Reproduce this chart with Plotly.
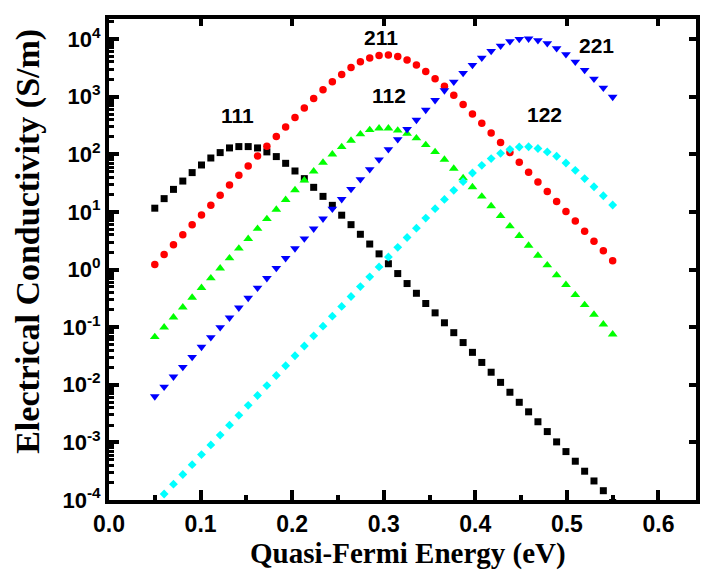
import math
import plotly.graph_objects as go

# Quasi-Fermi energy grid (eV)
energy = [0.0500, 0.0602, 0.0704, 0.0806, 0.0908, 0.1010, 0.1112, 0.1214, 0.1316, 0.1418,
          0.1520, 0.1622, 0.1724, 0.1827, 0.1929, 0.2031, 0.2133, 0.2235, 0.2337, 0.2439,
          0.2541, 0.2643, 0.2745, 0.2847, 0.2949, 0.3051, 0.3153, 0.3255, 0.3357, 0.3459,
          0.3561, 0.3663, 0.3765, 0.3867, 0.3969, 0.4071, 0.4173, 0.4276, 0.4378, 0.4480,
          0.4582, 0.4684, 0.4786, 0.4888, 0.4990, 0.5092, 0.5194, 0.5296, 0.5398, 0.5500]

sigma_111 = [11.6, 17.0, 24.6, 34.3, 48.1, 65.2, 86.2, 107, 129, 136,
             136, 129, 110, 91.2, 69.7, 51.3, 37.8, 26.7, 18.6, 13.0,
             8.77, 6.01, 4.09, 2.77, 1.87, 1.26, 0.851, 0.571, 0.387, 0.257,
             0.177, 0.119, 0.0802, 0.0540, 0.0365, 0.0244, 0.0165, 0.0110, 0.00741, 0.00496,
             0.00339, 0.00228, 0.00154, 0.00102, 6.92e-4, 4.71e-4, 3.16e-4, 2.14e-4, 1.45e-4, 9.05e-5]

sigma_211 = [1.22, 1.82, 2.69, 4.01, 5.99, 8.80, 13.0, 19.4, 29.2, 43.1,
             62.6, 93.4, 138, 203, 299, 435, 638, 931, 1312, 1807,
             2432, 3221, 4027, 4677, 5207, 5309, 4966, 4313, 3530, 2742,
             2040, 1523, 1062, 731, 502, 346, 235, 160, 107, 72.6,
             48.6, 33.0, 22.5, 15.2, 10.2, 6.97, 4.63, 3.10, 2.11, 1.42]

sigma_112 = [0.0676, 0.0993, 0.148, 0.221, 0.326, 0.481, 0.706, 1.05, 1.57, 2.32,
             3.42, 5.11, 7.55, 11.0, 16.2, 23.9, 35.3, 50.6, 71.8, 100,
             134, 173, 223, 265, 283, 283, 259, 229, 190, 145,
             110, 80.9, 56.4, 38.7, 27.0, 18.6, 12.6, 8.51, 5.66, 3.85,
             2.61, 1.75, 1.19, 0.796, 0.542, 0.363, 0.243, 0.165, 0.112, 0.0750]

sigma_221 = [0.00626, 0.00923, 0.0138, 0.0203, 0.0303, 0.0453, 0.0665, 0.0993, 0.146, 0.218,
             0.322, 0.481, 0.706, 1.06, 1.57, 2.32, 3.44, 5.11, 7.62, 11.3,
             16.6, 24.9, 36.7, 54.8, 80.9, 122, 182, 272, 395, 589,
             869, 1282, 1807, 2564, 3530, 4732, 6185, 7646, 9120, 10000,
             10120, 9490, 8420, 6890, 5440, 4030, 2890, 2040, 1422, 988]

sigma_122 = [8.51e-5, 1.27e-4, 1.88e-4, 2.77e-4, 4.11e-4, 6.14e-4, 9.05e-4, 1.34e-3, 1.99e-3, 2.95e-3,
             4.40e-3, 6.52e-3, 9.68e-3, 0.0145, 0.0214, 0.0319, 0.0471, 0.0706, 0.104, 0.155,
             0.229, 0.340, 0.505, 0.746, 1.11, 1.65, 2.43, 3.60, 5.22, 7.80,
             11.4, 16.5, 23.7, 33.5, 47.3, 64.4, 84.2, 104, 122, 134,
             135, 126, 110, 92.3, 70.6, 52.7, 37.9, 27.3, 19.1, 13.2]

series_names = ["111", "211", "112", "221", "122"]
series_values = [sigma_111, sigma_211, sigma_112, sigma_221, sigma_122]
series_colors = ["#000000", "#FF0000", "#00FF00", "#0000FF", "#00FFFF"]
series_symbols = ["square", "circle", "triangle-up", "triangle-down", "diamond"]
series_sizes = [7, 7.5, 8.5, 8.5, 6.8]

# label positions (energy, conductivity)
label_x = [0.140, 0.2974, 0.306, 0.532, 0.4753]
label_y = [468, 10830, 1033, 7760, 490]

x_ticks = [0.0, 0.1, 0.2, 0.3, 0.4, 0.5, 0.6]
y_exponents = [-4, -3, -2, -1, 0, 1, 2, 3, 4]
y_tickvals = [10.0 ** e for e in y_exponents]
y_ticktext = ["10<sup>%d</sup>" % e for e in y_exponents]
x_range = [0.0, 0.641]
y_range_log = [-4, 4.348]

x_title = "Quasi-Fermi Energy (eV)"
y_title = "Electrical Conductivity (S/m)"

fig = go.Figure()
for name, vals, col, sym, sz in zip(series_names, series_values, series_colors,
                                     series_symbols, series_sizes):
    fig.add_trace(go.Scatter(x=energy, y=vals, mode="markers", name=name,
                             marker=dict(symbol=sym, color=col, size=sz,
                                         line=dict(width=0)),
                             showlegend=False))

# invisible anchor trace so the mirrored (top/right) tick axes are drawn
fig.add_trace(go.Scatter(x=[x_ticks[1]], y=[1], xaxis="x2", yaxis="y2", mode="markers",
                         marker=dict(opacity=0), showlegend=False, hoverinfo="skip"))

for name, lx, ly in zip(series_names, label_x, label_y):
    fig.add_annotation(x=lx, y=math.log10(ly), text=name, showarrow=False,
                       font=dict(family="Liberation Sans, Arial", size=21, color="black",
                                 weight="bold"))

serif = "Liberation Serif, Times New Roman"
fig.add_annotation(xref="paper", yref="paper", x=0.509, y=-0.112, text=x_title,
                   showarrow=False, xanchor="center", yanchor="middle",
                   font=dict(family=serif, size=29, color="black", weight="bold"))
fig.add_annotation(xref="paper", yref="paper", x=-0.137, y=0.538, text=y_title,
                   showarrow=False, xanchor="center", yanchor="middle", textangle=-90,
                   font=dict(family=serif, size=34, color="black", weight="bold"))

xtickfont = dict(family="Liberation Sans, Arial", size=23, color="black", weight="bold")
ytickfont = dict(family="Liberation Sans, Arial", size=22, color="black", weight="bold")

fig.update_layout(
    width=703, height=572,
    margin=dict(l=109, r=3, t=19, b=72),
    paper_bgcolor="white", plot_bgcolor="white",
    xaxis=dict(range=x_range, tickvals=x_ticks, tickformat=".1f",
               ticks="inside", ticklen=10, tickwidth=4, tickcolor="black",
               minor=dict(dtick=0.05, tick0=0, ticks="inside", ticklen=5, tickwidth=4,
                          tickcolor="black", showgrid=False),
               showline=True, linewidth=4, linecolor="black", mirror=True,
               showgrid=False, zeroline=False, tickfont=xtickfont),
    yaxis=dict(type="log", range=y_range_log, tickvals=y_tickvals, ticktext=y_ticktext,
               ticks="inside", ticklen=10, tickwidth=4, tickcolor="black",
               minor=dict(dtick="D1", ticks="inside", ticklen=5, tickwidth=3,
                          tickcolor="black", showgrid=False),
               showline=True, linewidth=4, linecolor="black", mirror=True,
               showgrid=False, zeroline=False, tickfont=ytickfont),
    xaxis2=dict(overlaying="x", side="top", anchor="y2", range=x_range, tickvals=x_ticks,
                ticks="inside", ticklen=7, tickwidth=4, tickcolor="black",
                showticklabels=False, showgrid=False, zeroline=False, showline=False),
    yaxis2=dict(overlaying="y", side="right", anchor="x2", type="log", range=y_range_log,
                tickvals=y_tickvals, ticks="inside", ticklen=7, tickwidth=4, tickcolor="black",
                showticklabels=False, showgrid=False, zeroline=False, showline=False),
)

fig.write_html("out.html")
